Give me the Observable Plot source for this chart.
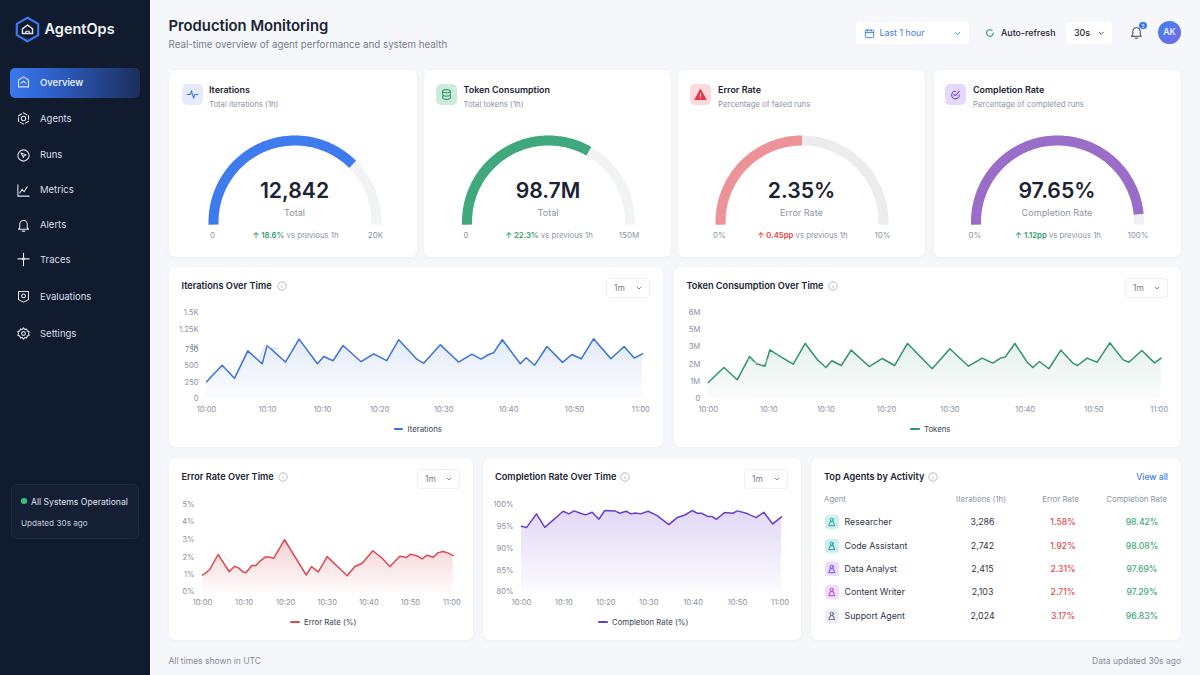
<!DOCTYPE html>
<html><head><meta charset="utf-8">
<script src="https://cdn.jsdelivr.net/npm/d3@7"></script>
<script src="https://cdn.jsdelivr.net/npm/@observablehq/plot@0.6"></script>
<style>
html,body{margin:0;padding:0;background:#f5f7fa;width:1200px;height:675px;overflow:hidden;font-family:Inter,"Noto Sans",sans-serif;color:#1a2233}
#root{position:relative;width:1200px;height:675px;overflow:hidden}
.abs{position:absolute}
.t{position:absolute;white-space:nowrap;line-height:1}
.abs svg{display:block}
.plotwrap svg{position:absolute;left:0;top:0;background:transparent;overflow:visible}
</style></head><body><div id="root"></div>
<script>
// ---------- data ----------
const navItems = ["Overview","Agents","Runs","Metrics","Alerts","Traces","Evaluations","Settings"];
const gaugeTitles = ["Iterations","Token Consumption","Error Rate","Completion Rate"];
const gaugeSubs = ["Total iterations (1h)","Total tokens (1h)","Percentage of failed runs","Percentage of completed runs"];
const gaugeValues = ["12,842","98.7M","2.35%","97.65%"];
const gaugeLabels = ["Total","Total","Error Rate","Completion Rate"];
const gaugeMins = ["0","0","0%","0%"];
const gaugeMaxs = ["20K","150M","10%","100%"];
const gaugeDeltas = ["18.6%","22.3%","0.45pp","1.12pp"];
const gaugeArcShare = [0.75,0.667,0.5,0.97];

const iterMinutes = [0,2.15,3.85,5.68,7.66,8.34,9.03,10.86,12.74,15.26,16.14,17.42,18.79,21.27,23.01,24.8,26.45,28.88,29.89,32.18,34.7,36.53,37.77,38.83,39.51,40.71,43.18,44,45.15,46.85,49,50.29,51.57,53.27,55.65,57.48,58.86,60];
const iterValues = [256,503,308,728,528,1024,744,554,1116,528,641,575,1024,559,682,575,1107,605,534,1034,554,677,600,672,698,1107,528,621,503,1010,549,672,605,1121,605,1010,616,682];
const iterGhostMinutes = [7.3,7.8,8.34,8.9,9.8];
const iterGhostValues = [600,740,1024,900,820];
const iterYTicks = [0,250,500,750,1000,1250,1500];
const iterYLabels = ["0","250","500","750","1K","1.25K","1.5K"];
const iterXTicks = [0,8.39,15.95,23.84,32.64,41.58,50.65,59.77];
const iterXLabels = ["10:00","10:10","10:10","10:20","10:30","10:40","10:50","11:00"];

const tokenMinutes = [0,2.08,3.84,5.47,6.4,7.51,8.17,9.58,11.26,12.85,14.44,15.59,16.38,17.62,18.94,21.32,23.05,24.68,26.4,29.67,32.01,34.48,36.29,37.7,38.72,39.34,40.62,42.25,43,43.88,45.12,46.71,48.3,48.92,50.2,51.52,53.2,54.97,55.72,57.44,59.12,60];
const tokenValues = [0.94,1.82,1.1,2.45,2.04,1.9,2.83,2.45,2.02,3.39,2.28,1.82,2.21,1.94,2.81,1.88,2.34,1.94,3.39,1.75,2.89,1.9,2.36,2.08,2.36,2.42,3.39,2.13,1.82,2.17,1.75,2.81,2.08,1.94,2.36,2.13,3.47,2.26,2.13,2.79,2.09,2.36];
const tokenGhostMinutes = [5.3,6.2,7.4,8.5,9.2];
const tokenGhostValues = [2.3,2.1,2.0,2.65,2.5];
const tokenYTicks = [0,1,2,3,5,6];
const tokenYLabels = ["0","1M","2M","3M","5M","6M"];
const tokenXTicks = [0,8.04,15.58,23.62,32.01,41.99,51.08,59.74];
const tokenXLabels = ["10:00","10:10","10:10","10:20","10:30","10:40","10:50","11:00"];

const errorMinutes = [0,.96,1.76,3.77,6.42,7.7,8.74,9.78,10.42,11.95,12.75,13.95,15.16,16.2,17.16,19.73,24.94,26.22,27.83,29.99,34.8,36.65,38.41,40.98,43.22,45.07,47.47,48.28,49.08,50.04,51.64,52.85,54.05,55.49,56.62,57.82,59.02,60.3];
const errorValues = [.97,1.12,1.29,2.15,1.16,1.48,1.37,1.14,1.1,1.54,1.5,1.79,2.02,2,1.94,2.97,.97,1.46,1.14,2.03,.93,1.46,1.65,2.36,1.94,1.46,2.05,2.02,1.98,2.17,2.07,1.9,2.11,2,2.24,2.32,2.24,2.09];
const errorGhostMinutes = [5.3,7.1];
const errorGhostValues = [2.05,1.6];
const errorYTicks = [0,1,2,3,4,5];
const errorYLabels = ["0%","1%","2%","3%","4%","5%"];
const errorXTicks = [0,10,20,30,40,50,60];
const errorXLabels = ["10:00","10:10","10:20","10:30","10:40","10:50","11:00"];

const compMinutes = [0,1.16,3.48,5.41,9.67,10.98,12.22,13.69,14.85,16.4,17.94,19.33,21.66,22.82,24.28,25.44,26.45,27.61,29.39,31.48,34.18,36.12,37.82,39.6,40.76,41.76,43.31,44.24,45.24,47.1,49.03,50.12,52.36,54.45,56.23,58.31,60.33];
const compValues = [94.98,94.68,97.8,94.75,98.4,97.8,98.48,97.95,97.57,98.17,96.58,98.56,98.48,97.95,98.4,97.8,98.02,97.8,98.4,97.41,95.36,96.96,97.49,98.56,97.95,97.95,97.19,97.19,96.58,98.1,97.95,98.48,97.87,96.96,98.17,95.51,97.11];
const compYTicks = [80,85,90,95,100];
const compYLabels = ["80%","85%","90%","95%","100%"];
const compXTicks = [0,9.82,19.57,29.54,39.83,50.12,60];
const compXLabels = ["10:00","10:10","10:20","10:30","10:40","10:50","11:00"];

const agentNames = ["Researcher","Code Assistant","Data Analyst","Content Writer","Support Agent"];
const agentIterations = ["3,286","2,742","2,415","2,103","2,024"];
const agentErrors = ["1.58%","1.92%","2.31%","2.71%","3.17%"];
const agentCompletions = ["98.42%","98.08%","97.69%","97.29%","96.83%"];

// ---------- layout & style ----------
const root = document.getElementById("root");
const GRAY="#8c94a3", DARK="#1b2333";
function div(css,cls){const d=document.createElement("div");if(cls)d.className=cls;d.style.cssText=css;root.appendChild(d);return d;}
function txt(x,y,s,o={}){
  const a=o.anchor||"start";
  const tx=a==="middle"?"-50%":a==="end"?"-100%":"0";
  const d=div(`left:${x}px;top:${y}px;transform:translate(${tx},-50%);font-size:${o.size||9}px;font-weight:${o.weight||400};color:${o.color||DARK};${o.css||""}`,"t");
  d.innerHTML=s;return d;
}
function icon(cx,cy,size,stroke,inner,sw=1.6){
  const d=div(`left:${cx-size/2}px;top:${cy-size/2}px;width:${size}px;height:${size}px`,"abs");
  d.innerHTML=`<svg viewBox="0 0 24 24" width="${size}" height="${size}" fill="none" stroke="${stroke}" stroke-width="${sw}" stroke-linecap="round" stroke-linejoin="round">${inner}</svg>`;
  return d;
}
function box(x,y,w,h,css){return div(`left:${x}px;top:${y}px;width:${w}px;height:${h}px;${css}`,"abs");}

// sidebar
box(0,0,150,675,"background:#111b2e");
icon(27,29,27,"#3b78f0",'<path d="M12 1.5 21.5 7v10L12 22.5 2.5 17V7Z" stroke-width="2"/><path d="M7.5 15.5v-4L12 8l4.5 3.5v4Z" stroke="#dfe7f7" stroke-width="1.3"/><path d="M10.5 15.5v-2h3v2" stroke="#dfe7f7" stroke-width="1"/>');
txt(44.5,29,"AgentOps",{size:14.5,weight:600,color:"#f3f6fb"});
box(10,68,130,30,"border-radius:5px;background:linear-gradient(90deg,#3a78f0 0%,#2f62cc 30%,#1b2f5c 100%)");
const navY=[82.5,118.5,155,190,225,259.5,296.5,333.5];
const navIcons=[
 '<path d="M12 3 20 8v11H4V8Z"/><path d="M8 13l4-3 4 3"/>',
 '<circle cx="12" cy="12" r="3.5"/><path d="M12 3l8 4.5v9L12 21l-8-4.5v-9Z" stroke-dasharray="6 3"/>',
 '<circle cx="12" cy="12" r="9"/><path d="M8 8l8 3-3 1-1 3Z"/>',
 '<path d="M3 3v18h18"/><path d="M6 16l4-6 3 4 5-8"/>',
 '<path d="M6 16V10a6 6 0 0 1 12 0v6l2 2H4Z"/><path d="M10 21h4"/>',
 '<path d="M12 2v20M3 11h18"/><circle cx="12" cy="11" r="1.5"/>',
 '<path d="M4 4h16v13l-8 4-8-4Z"/><circle cx="12" cy="11" r="3"/>',
 '<circle cx="12" cy="12" r="3"/><path d="M12 3l2 2.5 3-.5 1 3 3 1-1 3 1 3-3 1-1 3-3-.5L12 21l-2-2.5-3 .5-1-3-3-1 1-3-1-3 3-1 1-3 3 .5Z"/>'];
navItems.forEach((n,i)=>{
  icon(23.5,navY[i],15,"#dfe5ef",navIcons[i],1.7);
  txt(40,navY[i],n,{size:9.5,weight:i?400:500,color:i?"#d8deea":"#f5f8ff"});
});
box(11,484,126,53,"border:1px solid #1f2b44;border-radius:6px;background:#141f33");
box(21,498,5.5,5.5,"border-radius:50%;background:#38c07a");
txt(31,501.5,"All Systems Operational",{size:8.65,color:"#dfe5ef"});
txt(21,523,"Updated 30s ago",{size:8.2,color:"#c2cad8"});

// header
txt(168.5,25.5,"Production Monitoring",{size:14.8,weight:600});
txt(168.5,44.6,"Real-time overview of agent performance and system health",{size:9.75,color:"#747d8d"});
box(856,22,113,22,"background:#fff;border-radius:4px");
icon(869,33,11,"#3f7bea",'<rect x="3" y="5" width="18" height="16" rx="2"/><path d="M3 10h18M8 3v4M16 3v4"/>',2);
txt(879.5,33,"Last 1 hour",{size:8.8,color:"#3f7bea"});
icon(957,33,9,"#3f7bea",'<path d="M6 9l6 6 6-6"/>',2.6);
icon(990,33,10,"#2f9e6f",'<path d="M20 12a8 8 0 1 1-3-6.2"/>',2.6);
txt(1001,33,"Auto-refresh",{size:8.9,weight:500});
box(1066,22,46,22,"background:#fff;border-radius:4px");
txt(1074,33,"30s",{size:8.9,weight:500});
icon(1101,33,8.5,"#3a4354",'<path d="M6 9l6 6 6-6"/>',2.6);
icon(1136,32,15,"#3a4354",'<path d="M6 16V10a6 6 0 0 1 12 0v6l2 2H4Z"/><path d="M10 21h4"/>',1.6);
box(1139,21.5,7.5,7.5,"border-radius:50%;background:#3b78f0");
txt(1142.8,25.5,"3",{size:5,color:"#fff",anchor:"middle"});
box(1158,20.5,23,23,"border-radius:50%;background:linear-gradient(135deg,#3b82f0,#7a68ea)");
txt(1169.5,32,"AK",{size:8.8,weight:500,color:"#fff",anchor:"middle"});

// gauge cards
const gaugeCards=[[169,248],[424,247],[678,247],[934,247]];
const gaugeCx=[294.5,548,801.5,1057];
const gaugeIconX=[182,436,690,945];
const gaugeTextX=[209,463.5,718,973];
const gaugeColors=["#3d7bee","#3fa87c","#ee9299","#9a6ec8"];
const gaugeTrack=["#f2f3f5","#f2f3f5","#ececee","#f0eff3"];
const gaugeIconBg=["#e5ebfb","#cdebdc","#fcd9da","#e4d9fb"];
const gaugeIconFg=["#3d7bee","#2f9e6f","#e8384a","#6d3fd6"];
const deltaColor=["#2f9e6f","#2f9e6f","#ef4444","#2f9e6f"];
const gaugeGlyph=[
 '<path d="M2 12h6l2-7 4 14 2-7h6"/>',
 '<ellipse cx="12" cy="6" rx="7" ry="3"/><path d="M5 6v12c0 1.6 3 3 7 3s7-1.4 7-3V6M5 12c0 1.6 3 3 7 3s7-1.4 7-3"/>',
 '<path d="M12 3l10 18H2Z" fill="#e8384a"/><path d="M12 10v5M12 18v.2" stroke="#fff"/>',
 '<path d="M19 13a7 7 0 1 1-14 0"/><path d="M5 13a7 7 0 0 1 7-7M9 12l3 2 7-8"/>'];
const R=81.5, GCY=221.5;
gaugeCards.forEach(([x,w],i)=>{
  box(x,70,w,187,"background:#fff;border-radius:7px;box-shadow:0 1px 4px rgba(30,40,70,.04)");
  box(gaugeIconX[i],83.5,21,21,`border-radius:5px;background:${gaugeIconBg[i]}`);
  icon(gaugeIconX[i]+10.5,94,13,gaugeIconFg[i],gaugeGlyph[i],2);
  txt(gaugeTextX[i],90,gaugeTitles[i],{size:8.95,weight:600});
  txt(gaugeTextX[i],104.6,gaugeSubs[i],{size:7.75,color:GRAY});
  // gauge drawn through Plot's scales
  const track=d3.range(-0.01,1.0101,0.005).map(f=>({f}));
  const fill=track.filter(d=>d.f<=gaugeArcShare[i]);
  const px=d=>Math.cos(Math.PI*(1-d.f)), py=d=>Math.sin(Math.PI*(1-d.f));
  const cx=gaugeCx[i];
  const plot=Plot.plot({
    width:w,height:170,margin:0,
    x:{domain:[-1,1],range:[cx-x-R,cx-x+R]},
    y:{domain:[0,1],range:[GCY-70,GCY-70-R]},
    axis:null,
    marks:[
      Plot.line(track,{x:px,y:py,stroke:gaugeTrack[i],strokeWidth:10,strokeLinecap:"butt",strokeLinejoin:"round"}),
      Plot.line(fill,{x:px,y:py,stroke:gaugeColors[i],strokeWidth:10,strokeLinecap:"butt",strokeLinejoin:"round"})
    ]
  });
  const w2=box(x,70,w,170,""); w2.classList.add("plotwrap"); w2.appendChild(plot);
  txt(cx,191,gaugeValues[i],{size:21.2,weight:600,anchor:"middle"});
  txt(cx,213,gaugeLabels[i],{size:9.1,color:GRAY,anchor:"middle"});
  txt(cx-82,235.3,gaugeMins[i],{size:8,color:GRAY,anchor:"middle"});
  txt(cx+81,235.3,gaugeMaxs[i],{size:8,color:GRAY,anchor:"middle"});
  txt(cx+1,235.6,`<span style="color:${deltaColor[i]};font-weight:600">↑ ${gaugeDeltas[i]}</span> <span style="color:${GRAY}">vs previous 1h</span>`,{size:7.75,anchor:"middle"});
});

// line charts
function infoIcon(cx,cy){
  const d=div(`left:${cx-5}px;top:${cy-5}px;width:10px;height:10px`,"abs");
  d.innerHTML='<svg viewBox="0 0 10 10" width="10" height="10" fill="none" stroke="#a4abb8" stroke-width=".8"><circle cx="5" cy="5" r="4.2"/><path d="M5 4.4v2.8M5 2.7v.5"/></svg>';
}
function lineChart(c){
  box(c.x,c.y,c.w,c.h,"background:#fff;border-radius:7px;box-shadow:0 1px 4px rgba(30,40,70,.04)");
  txt(c.tx,c.ty,c.title,{size:9.2,weight:600});
  infoIcon(c.ix,c.ty);
  box(c.dx,c.dy,c.dw,20,"border:1px solid #eef0f4;border-radius:4px;box-sizing:border-box;background:#fff");
  txt(c.dx+8,c.dy+10,"1m",{size:8.4,color:"#717a8a"});
  icon(c.dx+c.dw-11,c.dy+10,8,"#717a8a",'<path d="M6 9l6 6 6-6"/>',2.6);
  const data=c.m.map((m,i)=>({m,v:c.v[i]}));
  const ghost=c.gm.map((m,i)=>({m,v:c.gv[i]}));
  const base=c.yPos[0], top=c.top;
  const gid="grad"+c.id;
  const gradMark=()=>{
    const ns="http://www.w3.org/2000/svg";
    const g=document.createElementNS(ns,"defs");
    g.innerHTML=`<linearGradient id="${gid}" x1="0" y1="0" x2="0" y2="1"><stop offset="0" stop-color="${c.color}" stop-opacity="${c.op}"/><stop offset="1" stop-color="${c.color}" stop-opacity=".02"/></linearGradient>`;
    return g;
  };
  const W=c.w,H=base-top+22;
  const axisOpts={tickSize:0,label:null,fontSize:7.6,fontVariant:"normal",color:"#8a919f",textStroke:"none"};
  const marks=[
    gradMark,
    Plot.areaY(data,{x:"m",y1:()=>c.yd[0],y2:"v",fill:`url(#${gid})`}),
    Plot.line(data,{x:"m",y:"v",stroke:c.color,strokeWidth:1.5,strokeLinejoin:"round"}),
    Plot.axisY({...axisOpts,ticks:c.yt,tickFormat:(d,i)=>c.yl[i],tickPadding:c.yPad}),
    Plot.axisX({...axisOpts,ticks:c.xt,tickFormat:(d,i)=>c.xl[i],tickPadding:8})
  ];
  if(ghost.length) marks.splice(3,0,Plot.line(ghost,{x:"m",y:"v",stroke:c.ghost,strokeWidth:1,strokeOpacity:.7}));
  const plot=Plot.plot({
    width:W,height:H,marginLeft:c.l-c.x,marginRight:c.x+c.w-c.r,marginTop:0,marginBottom:H-(base-top),
    style:{fontFamily:"Inter",fontSize:"7.6px",color:"#8a919f",background:"transparent"},
    x:{domain:[0,c.xmax],range:[c.l-c.x,c.r-c.x]},
    y:{type:"linear",domain:c.yd,range:c.yPos.map(p=>p-top)},
    marks
  });
  const w2=box(c.x,top,W,H,""); w2.classList.add("plotwrap"); w2.appendChild(plot);
  box(c.lx,c.ly-1,9.5,2,`background:${c.color};border-radius:1px`);
  txt(c.lx+14,c.ly+0.6,c.legend,{size:7.8,color:"#3a4354"});
}
lineChart({id:"i",x:169,y:267,w:494,h:180,title:"Iterations Over Time",tx:181.5,ty:285.5,ix:281.5,dx:606,dy:278,dw:44,
  color:"#3b71d9",ghost:"#a9c3f0",op:.15,m:iterMinutes,v:iterValues,gm:iterGhostMinutes,gv:iterGhostValues,
  yd:iterYTicks,yt:iterYTicks,yl:iterYLabels,yPos:[397.7,381.7,365,349,346.7,329.3,312.3],top:302,
  xt:iterXTicks,xl:iterXLabels,xmax:60,l:206,r:642,yPad:8,lx:393.5,ly:429,legend:"Iterations"});
lineChart({id:"t",x:674,y:267,w:507,h:180,title:"Token Consumption Over Time",tx:686.5,ty:285.5,ix:832.5,dx:1125,dy:278,dw:43,
  color:"#32936b",ghost:"#bcd9cb",op:.13,m:tokenMinutes,v:tokenValues,gm:tokenGhostMinutes,gv:tokenGhostValues,
  yd:tokenYTicks,yt:tokenYTicks,yl:tokenYLabels,yPos:[397.7,381,364,346.3,329.3,312.3],top:302,
  xt:tokenXTicks,xl:tokenXLabels,xmax:60,l:707.7,r:1160.7,yPad:8,lx:910,ly:429,legend:"Tokens"});
lineChart({id:"e",x:169,y:458,w:304,h:182,title:"Error Rate Over Time",tx:181.5,ty:476.5,ix:283,dx:417,dy:469,dw:43,
  color:"#dc4a55",ghost:"#f6c9cd",op:.26,m:errorMinutes,v:errorValues,gm:errorGhostMinutes,gv:errorGhostValues,
  yd:errorYTicks,yt:errorYTicks,yl:errorYLabels,yPos:[591.3,574,556.7,538.7,521,503.7],top:492,
  xt:errorXTicks,xl:errorXLabels,xmax:60.3,l:202,r:452.7,yPad:8,lx:290,ly:622,legend:"Error Rate (%)"});
lineChart({id:"c",x:483,y:458,w:318,h:182,title:"Completion Rate Over Time",tx:495,ty:476.5,ix:625,dx:744,dy:469,dw:44,
  color:"#6a3ed0",ghost:"#c9b8ef",op:.2,m:compMinutes,v:compValues,gm:[],gv:[],
  yd:compYTicks,yt:compYTicks,yl:compYLabels,yPos:[591.3,570,548,525.7,503.7],top:492,
  xt:compXTicks,xl:compXLabels,xmax:60.33,l:521,r:781,yPad:8,lx:598,ly:622,legend:"Completion Rate (%)"});

// table
box(811,458,370,182,"background:#fff;border-radius:7px;box-shadow:0 1px 4px rgba(30,40,70,.04)");
txt(824,476.5,"Top Agents by Activity",{size:9.2,weight:600});
infoIcon(933,476.5);
txt(1168,476.5,"View all",{size:8.6,weight:500,color:"#3f7bea",anchor:"end"});
txt(824,499.6,"Agent",{size:7.8,color:GRAY});
txt(981,499.6,"Iterations (1h)",{size:7.8,color:GRAY,anchor:"middle"});
txt(1079,499.6,"Error Rate",{size:7.8,color:GRAY,anchor:"end"});
txt(1167,499.6,"Completion Rate",{size:7.8,color:GRAY,anchor:"end"});
const rowY=[522,545.5,569,592,615.5];
const agentBg=["#cdf0ee","#cdeef0","#e7dcfb","#f3dcf8","#e9edf5"];
const agentFg=["#14a39a","#0f8f8f","#7c3aed","#b03cd6","#5b6577"];
agentNames.forEach((n,i)=>{
  box(825,rowY[i]-7,14,14,`border-radius:3.5px;background:${agentBg[i]}`);
  icon(832,rowY[i],9.5,agentFg[i],'<circle cx="12" cy="7" r="4"/><path d="M5 21l3-9h8l3 9Z"/>',2.4);
  txt(844.5,rowY[i],n,{size:8.8,color:"#303848"});
  txt(982.5,rowY[i],agentIterations[i],{size:8.8,color:"#303848",anchor:"middle"});
  txt(1063,rowY[i],agentErrors[i],{size:8.6,weight:500,color:"#e5484d",anchor:"middle"});
  txt(1142,rowY[i],agentCompletions[i],{size:8.6,weight:500,color:"#3fa87c",anchor:"middle"});
});

// footer
txt(168.5,661,"All times shown in UTC",{size:8.5,color:"#858d9c"});
txt(1181,661,"Data updated 30s ago",{size:8.5,color:"#858d9c",anchor:"end"});
</script></body></html>
